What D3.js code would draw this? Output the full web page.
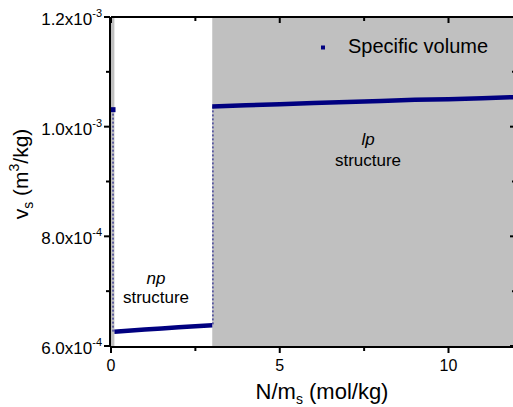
<!DOCTYPE html>
<html>
<head>
<meta charset="utf-8">
<script src="https://cdn.jsdelivr.net/npm/d3@7"></script>
<style>
  body { margin: 0; background: #fff; }
  svg { font-family: "Liberation Sans", Arial, sans-serif; }
</style>
</head>
<body>
<div id="chart"></div>
<script>
// Data
var npX = [0.1, 0.5, 1.0, 1.5, 2.0, 2.5, 3.0];
var npV = [6.26e-4, 6.28e-4, 6.30e-4, 6.32e-4, 6.34e-4, 6.36e-4, 6.38e-4];
var lpX = [3.0, 4, 5, 6, 7, 8, 9, 10, 11, 12];
var lpV = [1.037e-3, 1.039e-3, 1.041e-3, 1.043e-3, 1.045e-3, 1.047e-3, 1.049e-3, 1.050e-3, 1.052e-3, 1.054e-3];
var firstX = [0.06];
var firstV = [1.031e-3];
var greyBands = [[0, 0.1], [3.0, 12]];
var xTicks = [0, 5, 10];
var xMinor = [2.5, 7.5];
var yTicks = [6e-4, 8e-4, 1e-3, 1.2e-3];
var yTickMant = ["6.0", "8.0", "1.0", "1.2"];
var yTickExp = ["-4", "-4", "-3", "-3"];
var yMinor = [7e-4, 9e-4, 1.1e-3];

var W = 513, H = 407;
var margin = { top: 17, right: -3, bottom: 61, left: 111 };
var width = W - margin.left - margin.right;
var height = H - margin.top - margin.bottom;

var svg = d3.select("#chart").append("svg")
    .attr("width", W)
    .attr("height", H);

var g = svg.append("g")
    .attr("transform", "translate(" + margin.left + "," + margin.top + ")");

var x = d3.scaleLinear().domain([0, 12]).range([0, width]);
var y = d3.scaleLinear().domain([6e-4, 1.2e-3]).range([height, 0]);

// Grey shaded regions
g.selectAll("rect.band")
    .data(greyBands).enter()
    .append("rect")
    .attr("class", "band")
    .attr("x", function (d) { return x(d[0]); })
    .attr("width", function (d) { return x(d[1]) - x(d[0]); })
    .attr("y", 0)
    .attr("height", height)
    .attr("fill", "#c0c0c0");

// Dashed connectors between phases
var navy = "#000080";
var connectors = [
  [firstX[0], firstV[0], firstX[0], npV[0]],
  [lpX[0] + 0.02, lpV[0], lpX[0] + 0.02, npV[npV.length - 1]]
];
g.selectAll("line.conn")
    .data(connectors).enter()
    .append("line")
    .attr("x1", function (d) { return x(d[0]); })
    .attr("y1", function (d) { return y(d[1]); })
    .attr("x2", function (d) { return x(d[2]); })
    .attr("y2", function (d) { return y(d[3]); })
    .attr("stroke", navy)
    .attr("stroke-width", 1)
    .attr("stroke-dasharray", "2,2");

// Data series
var line = d3.line()
    .x(function (d) { return x(d[0]); })
    .y(function (d) { return y(d[1]); });

[d3.zip(npX, npV), d3.zip(lpX, lpV)].forEach(function (s) {
  g.append("path")
      .datum(s)
      .attr("d", line)
      .attr("fill", "none")
      .attr("stroke", navy)
      .attr("stroke-width", 4.5);
});

g.selectAll("rect.pt")
    .data(d3.zip(firstX, firstV)).enter()
    .append("rect")
    .attr("class", "pt")
    .attr("x", function (d) { return x(d[0]) - 2.5; })
    .attr("y", function (d) { return y(d[1]) - 2.5; })
    .attr("width", 5)
    .attr("height", 5)
    .attr("fill", navy);

// Frame and axes
g.append("line").attr("x1", 0).attr("x2", width).attr("y1", 0).attr("y2", 0)
    .attr("stroke", "#000").attr("stroke-width", 2);
g.append("line").attr("x1", width).attr("x2", width).attr("y1", 0).attr("y2", height)
    .attr("stroke", "#000").attr("stroke-width", 2);
g.append("line").attr("x1", -1).attr("x2", -1).attr("y1", 0).attr("y2", height + 1)
    .attr("stroke", "#000").attr("stroke-width", 2);
g.append("line").attr("x1", -1).attr("x2", width).attr("y1", height + 1).attr("y2", height + 1)
    .attr("stroke", "#000").attr("stroke-width", 2);

function tickLines(vals, len, horiz, pos, dir) {
  g.selectAll(null).data(vals).enter().append("line")
      .attr("x1", function (d) { return horiz ? x(d) : pos; })
      .attr("x2", function (d) { return horiz ? x(d) : pos + dir * len; })
      .attr("y1", function (d) { return horiz ? pos : y(d); })
      .attr("y2", function (d) { return horiz ? pos + dir * len : y(d); })
      .attr("stroke", "#000")
      .attr("stroke-width", 2);
}
// outer ticks on bottom/left, inner ticks on top/right
tickLines(xTicks, 6, true, height + 1, 1);
tickLines(xMinor, 4, true, height + 1, 1);
tickLines(xTicks, 6, true, 0, 1);
tickLines(xMinor, 4, true, 0, 1);
tickLines(yTicks, 6, false, -1, -1);
tickLines(yMinor, 4, false, -1, -1);
tickLines(yTicks, 6, false, width, -1);
tickLines(yMinor, 4, false, width, -1);

// Tick labels
g.selectAll("text.xt").data(xTicks).enter().append("text")
    .attr("x", function (d) { return x(d); })
    .attr("y", height + 25)
    .attr("text-anchor", "middle")
    .attr("font-size", 16)
    .text(function (d) { return d; });

var yt = g.selectAll("text.yt").data(yTicks).enter().append("text")
    .attr("x", -9)
    .attr("y", function (d) { return y(d) + 8; })
    .attr("text-anchor", "end")
    .attr("font-size", 17);
yt.append("tspan").text(function (d, i) { return yTickMant[i] + "x10"; });
yt.append("tspan").attr("dy", -8).attr("font-size", 11)
    .text(function (d, i) { return yTickExp[i]; });

// Axis titles
var xt = svg.append("text")
    .attr("x", 322).attr("y", 399)
    .attr("text-anchor", "middle")
    .attr("font-size", 22);
xt.append("tspan").text("N/m");
xt.append("tspan").attr("dy", 5).attr("font-size", 14).text("s");
xt.append("tspan").attr("dy", -5).text(" (mol/kg)");

var ytt = svg.append("text")
    .attr("transform", "translate(28,174) rotate(-90)")
    .attr("text-anchor", "middle")
    .attr("font-size", 21);
ytt.append("tspan").text("v");
ytt.append("tspan").attr("dy", 5).attr("font-size", 14).text("s");
ytt.append("tspan").attr("dy", -5).text(" (m");
ytt.append("tspan").attr("dy", -9).attr("font-size", 14).text("3");
ytt.append("tspan").attr("dy", 9).text("/kg)");

// Region labels
function regionLabel(cx, nameY, structY, name) {
  svg.append("text").attr("x", cx).attr("y", nameY)
      .attr("text-anchor", "middle").attr("font-size", 17)
      .attr("font-style", "italic").text(name);
  svg.append("text").attr("x", cx).attr("y", structY)
      .attr("text-anchor", "middle").attr("font-size", 17)
      .text("structure");
}
regionLabel(156, 284, 303, "np");
regionLabel(368, 145, 166, "lp");

// Legend
svg.append("rect")
    .attr("x", 321).attr("y", 45.5)
    .attr("width", 4).attr("height", 4)
    .attr("fill", navy);
svg.append("text")
    .attr("x", 348).attr("y", 53)
    .attr("font-size", 20)
    .text("Specific volume");
</script>
</body>
</html>
